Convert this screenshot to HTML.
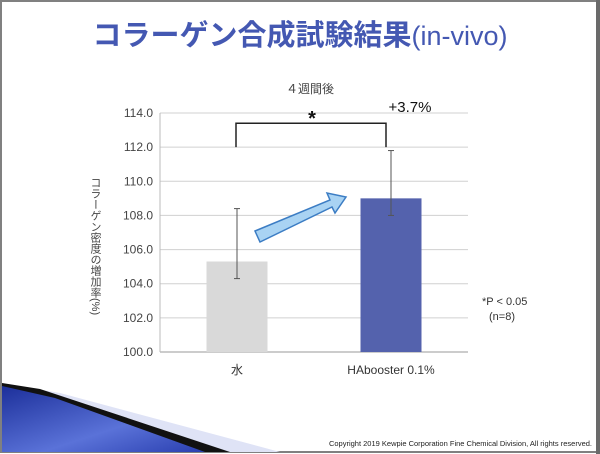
<!DOCTYPE html>
<html><head><meta charset="utf-8"><style>
body{margin:0;background:#fff}
svg{display:block;font-family:"Liberation Sans","Noto Sans CJK JP",sans-serif}
</style></head><body>
<svg id="c" width="600" height="454" viewBox="0 0 600 454">
<defs><linearGradient id="bg" x1="0" y1="0" x2="1" y2="1"><stop offset="0" stop-color="#1c2f9a"/><stop offset="0.6" stop-color="#5a72d8"/><stop offset="1" stop-color="#2a3fb0"/></linearGradient></defs>
<rect x="1" y="1" width="596" height="451" fill="#fff" stroke="#808080" stroke-width="2"/>
<rect x="596" y="0" width="4" height="454" fill="#6a6a6a"/>
<text x="300" y="45" text-anchor="middle" font-size="29" font-weight="bold" fill="#4458b2">コラーゲン合成試験結果<tspan font-weight="normal" font-size="27">(in-vivo)</tspan></text>
<polygon points="2,383 2,452 280,452 60,393" fill="#dfe3f6"/>
<polygon points="2,383 40,389 230,452 2,452" fill="#111"/>
<polygon points="2,386 2,452 205,452 55,398" fill="url(#bg)"/>
<g id="plot"></g>
<text x="310" y="93" text-anchor="middle" font-size="12" fill="#444">４週間後</text>
<text x="95" y="177" font-size="11" fill="#444" style="writing-mode:vertical-rl;text-orientation:mixed">コラーゲン密度の増加率(%)</text>
<text x="312" y="125" text-anchor="middle" font-size="20" font-weight="bold" fill="#111">*</text>
<text x="410" y="112" text-anchor="middle" font-size="15" fill="#111">+3.7%</text>
<text x="482" y="305" font-size="11" fill="#333">*P &lt; 0.05</text>
<text x="489" y="320" font-size="11" fill="#333">(n=8)</text>
<text x="592" y="446" text-anchor="end" font-size="7.5" fill="#222">Copyright 2019 Kewpie Corporation Fine Chemical Division,  All rights  reserved.</text>
</svg>
<script>
const categories=["水","HAbooster 0.1%"];
const values=[105.3,109.0];
const errLow=[104.3,108.0];
const errHigh=[108.4,111.8];
const ticks=["100.0","102.0","104.0","106.0","108.0","110.0","112.0","114.0"];
const NS="http://www.w3.org/2000/svg";
const g=document.getElementById('plot');
const x0=160,x1=468,yMin=100,yMax=114,yb=352,yt=113;
const y=v=>yb-(v-yMin)/(yMax-yMin)*(yb-yt);
const band=(x1-x0)/categories.length;
const cx=i=>x0+band*(i+0.5);
function mk(t,a){const e=document.createElementNS(NS,t);for(const k in a)e.setAttribute(k,a[k]);g.appendChild(e);return e;}
ticks.forEach(t=>{const v=parseFloat(t);
 const l=mk('line',{x1:x0,x2:x1,y1:y(v),y2:y(v),stroke:v===100?'#999':'#d0d0d0','stroke-width':1});
 
 
 const tx=mk('text',{x:x0-7,y:y(v)+4,'text-anchor':'end','font-size':12,fill:'#444'});tx.textContent=t;
 
 
});
const ax=mk('line',{x1:x0,x2:x0,y1:yt,y2:yb,stroke:'#bbb'});


const colors=['#d9d9d9','#5462ad'];
categories.forEach((c,i)=>{
 const w=61;
 const b=mk('rect',{x:cx(i)-w/2,y:y(values[i]),width:w,height:yb-y(values[i]),fill:colors[i]});
 
 
 const e=mk('line',{x1:cx(i),x2:cx(i),y1:y(errHigh[i]),y2:y(errLow[i]),stroke:'#555','stroke-width':1});
 
 
 [errHigh[i],errLow[i]].forEach(v=>{const cap=mk('line',{x1:cx(i)-3,x2:cx(i)+3,y1:y(v),y2:y(v),stroke:'#555'});
  
  });
 const t=mk('text',{x:cx(i),y:yb+22,'text-anchor':'middle','font-size':12,fill:'#333'});t.textContent=c;
 
 
});
const br=mk('polyline',{points:`${cx(0)-1},${y(112)} ${cx(0)-1},${y(113.4)} ${cx(1)-5},${y(113.4)} ${cx(1)-5},${y(112)}`,fill:'none',stroke:'#222','stroke-width':1.5});


const ar=mk('polygon',{points:'255,231 330,200 327,193 346,197 335,213 332,207 260,242',fill:'#a9d3f3',stroke:'#3c7dc4','stroke-width':1.5});


</script>
</body></html>
